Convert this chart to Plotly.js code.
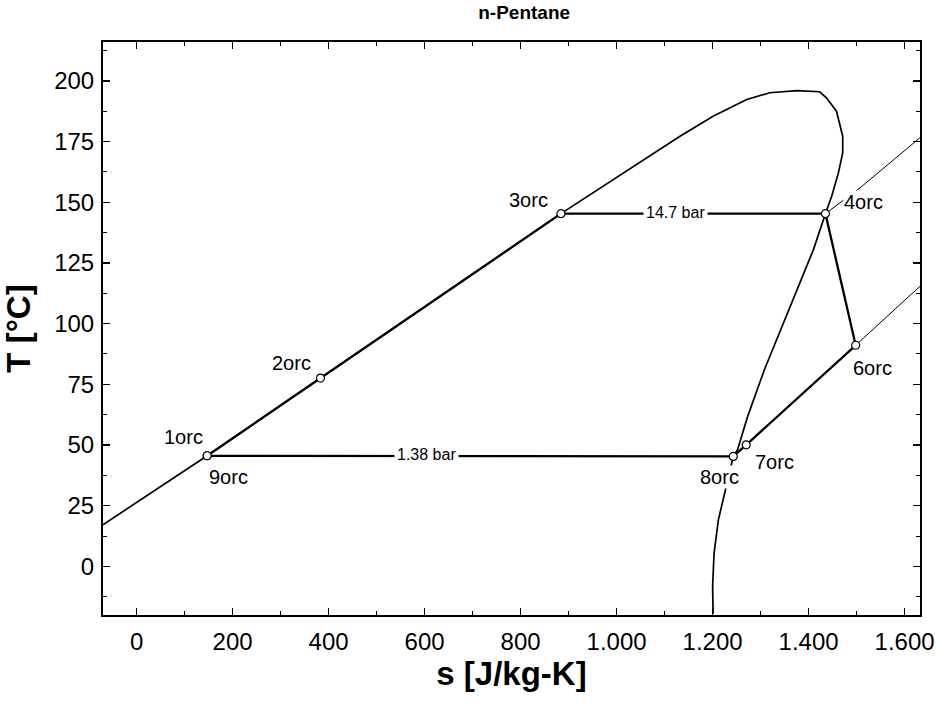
<!DOCTYPE html>
<html>
<head>
<meta charset="utf-8">
<script src="https://cdn.plot.ly/plotly-3.0.1.min.js"></script>
<style>html,body{margin:0;padding:0;background:#fff;}#chart{width:936px;height:704px;}</style>
</head>
<body>
<div id="chart"></div>
<script>
// Saturation curve of n-Pentane (liquid line, dome, vapour line)
const satS = [-70, 147, 383, 884, 1132, 1201, 1271, 1319, 1375, 1423, 1437, 1458, 1471, 1471, 1462, 1448, 1435, 1410, 1376, 1342, 1308, 1273, 1252, 1243, 1224, 1212, 1203, 1200, 1201];
const satT = [17.2, 45.6, 77.6, 145.3, 177.2, 185.4, 192.3, 195.1, 196.0, 195.5, 193.0, 187.5, 177.2, 170.3, 162.1, 152.5, 145.3, 130.5, 114.0, 97.6, 81.1, 61.8, 48.1, 45.3, 30.0, 19.2, 5.5, -8.2, -19.5];

// ORC cycle path 1 -> 2 -> 3 -> 4 -> 6 -> 7 -> 8 -> 9
const cycleS = [147, 383, 884, 1435, 1498, 1270, 1243, 147];
const cycleT = [45.6, 77.6, 145.3, 145.3, 91.1, 50.1, 45.3, 45.6];

// Isobars continuing into the superheated region
const isoHighS = [1435, 1507, 1632];
const isoHighT = [145.3, 155.9, 176.6];
const isoLowS = [1498, 1632];
const isoLowT = [91.1, 115.4];

// State points
const stateNames = ['1orc', '2orc', '3orc', '4orc', '6orc', '7orc', '8orc', '9orc'];
const stateS = [147, 383, 884, 1435, 1498, 1270, 1243, 147];
const stateT = [45.6, 77.6, 145.3, 145.3, 91.1, 50.1, 45.3, 45.6];

// Isobar labels
const barNames = ['14.7 bar', '1.38 bar'];
const barS = [1122, 604];
const barT = [145.3, 45.5];

const FONT = 'Liberation Sans, Arial, Helvetica, sans-serif';

const traces = [
  {x: satS, y: satT, mode: 'lines', line: {color: '#000', width: 1.7}, hoverinfo: 'skip'},
  {x: isoHighS, y: isoHighT, mode: 'lines', line: {color: '#000', width: 1}, hoverinfo: 'skip'},
  {x: isoLowS, y: isoLowT, mode: 'lines', line: {color: '#000', width: 1}, hoverinfo: 'skip'},
  {x: cycleS, y: cycleT, mode: 'lines', line: {color: '#000', width: 2.3}, hoverinfo: 'skip'},
  {x: stateS, y: stateT, mode: 'markers', marker: {size: 8, color: '#fff', line: {color: '#000', width: 1.2}}}
];

// label offsets in pixels (x, y up)
const offs = [[-24, 19], [-29, 15], [-32, 14], [38, 12], [17, -23], [28, -17], [-14, -21], [21, -21]];
const annotations = stateNames.map((n, i) => ({
  x: stateS[i], y: stateT[i], xref: 'x', yref: 'y', text: n, showarrow: false,
  xshift: offs[i][0], yshift: offs[i][1],
  font: {family: FONT, size: 20, color: '#000'},
  bgcolor: (n === '4orc' || n === '8orc') ? '#fff' : 'rgba(0,0,0,0)', borderpad: 0
}));
barNames.forEach((n, i) => annotations.push({
  x: barS[i], y: barT[i], xref: 'x', yref: 'y', text: n, showarrow: false,
  font: {family: FONT, size: 16, color: '#000'}, bgcolor: '#fff', borderpad: 2, yshift: 1
}));

const axisCommon = {
  showline: true, linecolor: '#000', linewidth: 2, mirror: 'allticks',
  ticks: 'inside', ticklen: 7, tickwidth: 1.3, tickcolor: '#000',
  showgrid: false, zeroline: false,
  tickfont: {family: FONT, size: 24, color: '#000'}
};

const layout = {
  width: 936, height: 704,
  margin: {l: 103, r: 16, t: 42, b: 89},
  paper_bgcolor: '#fff', plot_bgcolor: '#fff',
  showlegend: false,
  separators: ',.',
  title: {text: '<b>n-Pentane</b>', x: 0.56, xref: 'container', xanchor: 'center', y: 0.982, yref: 'container', yanchor: 'middle',
          font: {family: FONT, size: 19, color: '#000'}},
  xaxis: Object.assign({}, axisCommon, {
    range: [-70, 1632], tick0: 0, dtick: 200, separatethousands: true, ticklabelstandoff: 4,
    minor: {dtick: 100, tick0: 0, ticks: 'inside', ticklen: 4, tickcolor: '#000', tickwidth: 1},
    title: {text: '<b>s [J/kg-K]</b>', font: {family: FONT, size: 33, color: '#000'}, standoff: 0}
  }),
  yaxis: Object.assign({}, axisCommon, {
    range: [-20, 216], tick0: 0, dtick: 25, ticklabelstandoff: 2,
    minor: {dtick: 12.5, tick0: 0, ticks: 'inside', ticklen: 4, tickcolor: '#000', tickwidth: 1},
    title: {text: '<b>T [°C]</b>', font: {family: FONT, size: 33, color: '#000'}, standoff: 15}
  }),
  annotations: annotations
};

Plotly.newPlot('chart', traces, layout, {staticPlot: true, displayModeBar: false});
</script>
</body>
</html>
